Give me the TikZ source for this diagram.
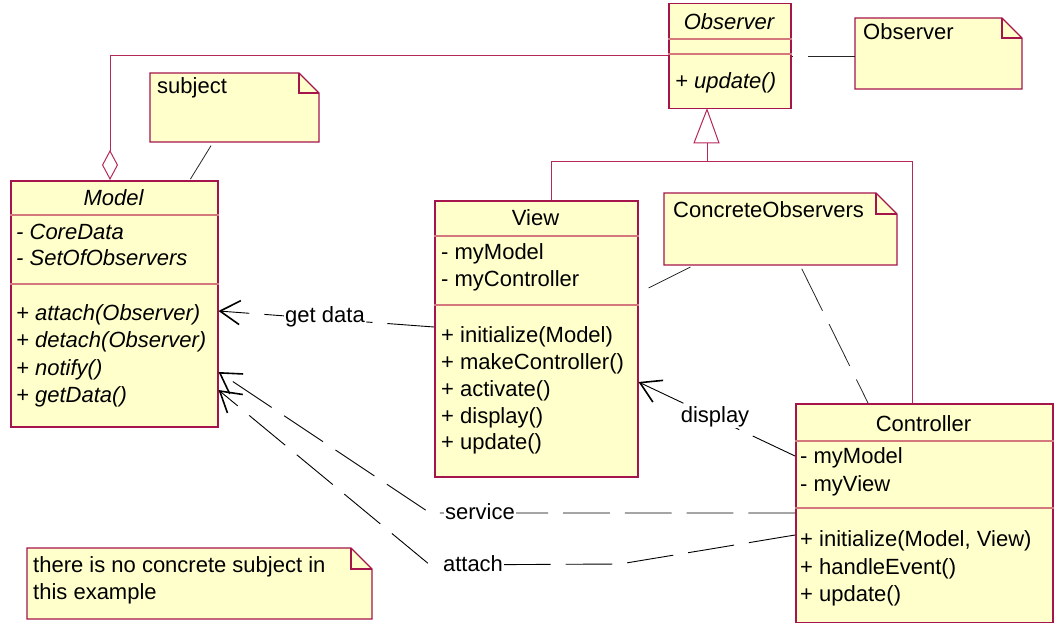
\documentclass[tikz,border=0pt]{standalone}
\usepackage{fontspec}
\setmainfont{Liberation Sans}
\usetikzlibrary{arrows.meta,fit}
\definecolor{umlborder}{RGB}{165,20,75}
\definecolor{umlsep}{RGB}{212,120,125}
\definecolor{umlrel}{RGB}{180,40,90}
\definecolor{umlfill}{RGB}{255,255,204}
\tikzset{
  classbox/.style={draw=umlborder, fill=umlfill, line width=1.5pt, inner sep=0, anchor=north west},
  sepline/.style={draw=umlsep, line width=1.3pt},
  txt/.style={anchor=base west, inner sep=0},
  ttl/.style={anchor=base, inner sep=0},
  rel/.style={draw=umlrel, line width=1pt},
  dep/.style={draw=black, line width=0.9pt, dash pattern=on 46.7pt off 15pt,
    -{Straight Barb[length=20pt,width=24pt,line width=1.6pt]}},
  anch/.style={draw=black!85, line width=0.8pt, dash pattern=on 46.7pt off 15pt},
  lbl/.style={fill=white, inner sep=1pt},
  notebox/.style={draw=umlborder, fill=umlfill, line width=1.3pt, line join=miter},
}
\newcommand\umlnote[6]{%
  \draw[notebox] (#2,#3) -- (#4-#6,#3) -- (#4,#3+#6) -- (#4,#5) -- (#2,#5) -- cycle;
  \draw[notebox, fill=none] (#4-#6,#3) -- (#4-#6,#3+#6) -- (#4,#3+#6);
  \node[inner sep=0, fit={(#2,#3) (#4,#5)}] (#1) {};
}
\begin{document}
\begin{tikzpicture}[x=1pt, y=-1pt, font=\fontsize{22}{27}\selectfont]
\path[use as bounding box] (0,0) rectangle (1057,623);

% ---------- notes ----------
\umlnote{subj}{150}{73}{319}{142}{20}
\node[txt] (subjt) at (157,94) {subject};
\umlnote{obsnote}{855}{18}{1022}{89}{20}
\node[txt] (obsnotet) at (863,40) {Observer};
\umlnote{conc}{664}{193}{897}{265}{21}
\node[txt] (conct) at (673,217) {ConcreteObservers};
\umlnote{nocs}{27}{548}{372}{619}{21}
\node[txt] (nocs1) at (33,572) {there is no concrete subject in};
\node[txt] (nocs2) at (33,599) {this example};

% ---------- Observer ----------
\node[classbox, minimum width=122pt, minimum height=105pt] (observer) at (668,3) {};
\draw[sepline] (observer.west |- 0,39) -- (observer.east |- 0,39);
\draw[sepline] (observer.west |- 0,54) -- (observer.east |- 0,54);
\node[ttl] (obst) at (729,30) {\itshape Observer};
\node[txt] (obs1) at (675,89) {\itshape + update()};

% ---------- Model ----------
\node[classbox, minimum width=207pt, minimum height=246pt] (model) at (10,180) {};
\draw[sepline] (model.west |- 0,215) -- (model.east |- 0,215);
\draw[sepline] (model.west |- 0,284) -- (model.east |- 0,284);
\node[ttl] (modelt) at (113.5,205) {\itshape Model};
\node[txt] (m1) at (16,239) {\itshape - CoreData};
\node[txt] (m2) at (16,265) {\itshape - SetOfObservers};
\node[txt] (m3) at (16,320) {\itshape + attach(Observer)};
\node[txt] (m4) at (16,347) {\itshape + detach(Observer)};
\node[txt] (m5) at (16,375) {\itshape + notify()};
\node[txt] (m6) at (16,402) {\itshape + getData()};

% ---------- View ----------
\node[classbox, minimum width=203pt, minimum height=276pt] (view) at (434,200) {};
\draw[sepline] (view.west |- 0,236) -- (view.east |- 0,236);
\draw[sepline] (view.west |- 0,305) -- (view.east |- 0,305);
\node[ttl] (viewt) at (535.5,225) {View};
\node[txt] (v1) at (441,259) {- myModel};
\node[txt] (v2) at (441,286) {- myController};
\node[txt] (v3) at (441,342) {+ initialize(Model)};
\node[txt] (v4) at (441,369) {+ makeController()};
\node[txt] (v5) at (441,396) {+ activate()};
\node[txt] (v6) at (441,423) {+ display()};
\node[txt] (v7) at (441,449) {+ update()};

% ---------- Controller ----------
\node[classbox, minimum width=257pt, minimum height=219pt] (ctrl) at (795,403) {};
\draw[sepline] (ctrl.west |- 0,441) -- (ctrl.east |- 0,441);
\draw[sepline] (ctrl.west |- 0,508) -- (ctrl.east |- 0,508);
\node[ttl] (ctrlt) at (923.5,431) {Controller};
\node[txt] (c1) at (800,463) {- myModel};
\node[txt] (c2) at (800,491) {- myView};
\node[txt] (c3) at (800,546) {+ initialize(Model, View)};
\node[txt] (c4) at (800,574) {+ handleEvent()};
\node[txt] (c5) at (800,601) {+ update()};

% ---------- aggregation ----------
\draw[rel, {Diamond[open, length=30pt, width=16pt, line width=1pt]}-]
  (model.north -| 110,0) -- (110,56) -- (observer.west |- 0,56);

% ---------- generalization ----------
\coordinate (gj) at (707,161);
\draw[rel] (view.north -| 551,0) -- (551,161) -- (912,161) -- (ctrl.north -| 912,0);
\draw[rel] (gj) -- (707,143);
\draw[rel, fill=white, line join=miter] (observer.south -| 707,0) -- (719,143) -- (694,143) -- cycle;

% ---------- note anchors ----------
\draw[anch, shorten <=4pt, shorten >=1pt] (subj) -- (model);
\draw[anch] (obsnote.west |- 0,56) -- (observer.east |- 0,56);
\draw[anch, shorten <=4pt] (conc.south -| 800,0) -- (ctrl.north -| 868,0);
\draw[anch, shorten <=4pt] (conc.south -| 694,0) -- (view.east |- 0,293);

% ---------- dependencies ----------
\draw[dep] (view.west |- 0,327) -- (model.east |- 0,311);
\draw[dep] (ctrl.west |- 0,456) -- (view.east |- 0,382);
\draw[dep] (ctrl.west |- 0,513) -- (430,513) -- (model.east |- 0,372);
\draw[dep] (ctrl.west |- 0,535) -- (620,564) -- (430,565) -- (model.east |- 0,390);

\node[lbl] (lgd) at (325,317) {get data};
\node[lbl] (ldisp) at (715,417) {display};
\node[lbl] (lserv) at (480,512) {service};
\node[lbl] (latt) at (473,564) {attach};
\end{tikzpicture}
\end{document}
